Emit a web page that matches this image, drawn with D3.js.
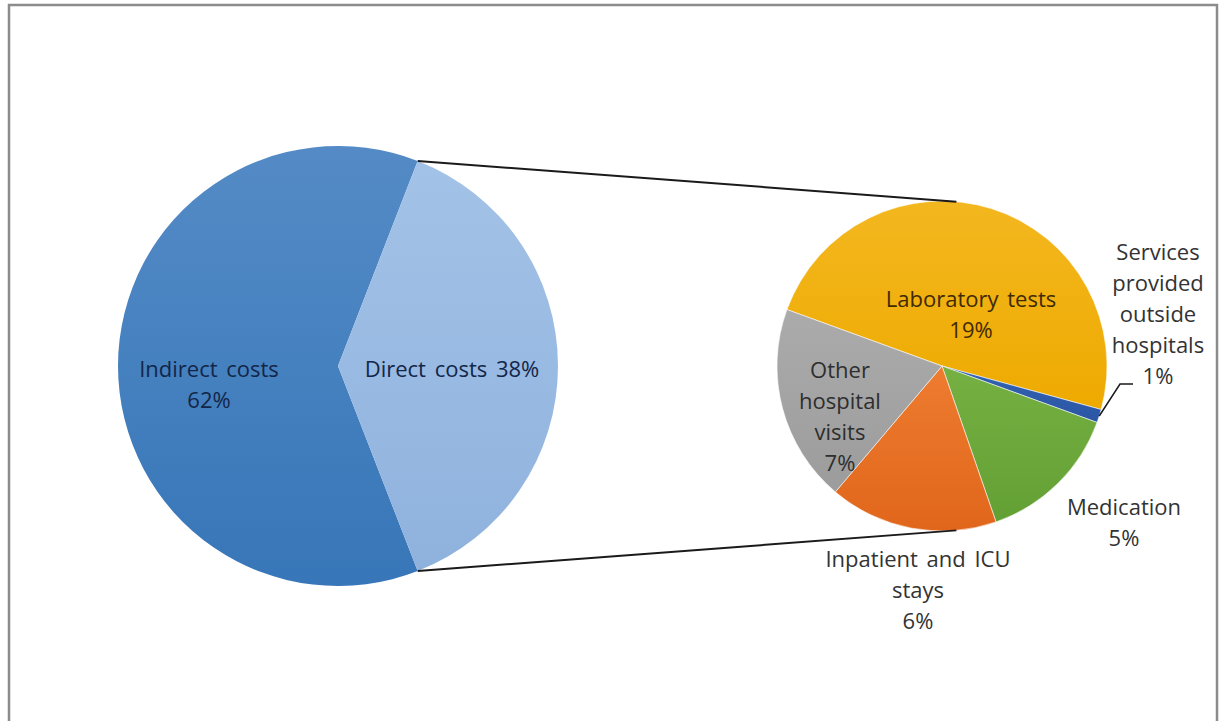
<!DOCTYPE html>
<html>
<head>
<meta charset="utf-8">
<script src="https://cdn.jsdelivr.net/npm/d3@7"></script>
<style>
  html, body { margin: 0; padding: 0; background: #fff; }
  svg { display: block; }
  text { font-family: "Open Sans", Lato, sans-serif; }
</style>
</head>
<body>
<svg id="chart" width="1220" height="721"></svg>
<script>
// ---------- data ----------
const mainCategories = ["Indirect costs", "Direct costs"];
const mainValues = [61.8, 38.2];
const subCategories = ["Laboratory tests", "Services provided outside hospitals", "Medication", "Inpatient and ICU stays", "Other hospital visits"];
const subValues = [18.6, 0.5, 5.4, 6.3, 7.4];

// ---------- layout / style ----------
const svg = d3.select("#chart");
const main = { cx: 338, cy: 366, r: 220 };
const sub = { cx: 942, cy: 366, r: 165 };
const fmt = d3.format(".0%");
const total = d3.sum(mainValues);

const mainColors = { "Indirect costs": ["#548bc6", "#3776b8"], "Direct costs": ["#a3c2e7", "#8fb2dd"] };
const subColors = {
  "Laboratory tests": ["#f3b71f", "#eeaa00"],
  "Services provided outside hospitals": ["#3363b3", "#2a56a4"],
  "Medication": ["#76b043", "#63a033"],
  "Inpatient and ICU stays": ["#ee7c30", "#e0661b"],
  "Other hospital visits": ["#ababab", "#9c9c9c"]
};

const defs = svg.append("defs");
function grad(id, c) {
  const g = defs.append("linearGradient").attr("id", id).attr("x1", 0).attr("y1", 0).attr("x2", 0).attr("y2", 1);
  g.append("stop").attr("offset", "0%").attr("stop-color", c[0]);
  g.append("stop").attr("offset", "100%").attr("stop-color", c[1]);
}
mainCategories.forEach((c, i) => grad("gm" + i, mainColors[c]));
subCategories.forEach((c, i) => grad("gs" + i, subColors[c]));

// frame
svg.append("rect").attr("x", 9).attr("y", 5).attr("width", 1208).attr("height", 730)
  .attr("fill", "#fff").attr("stroke", "#8c8c8c").attr("stroke-width", 2.5);

// ---------- main pie ----------
const deg = Math.PI / 180;
const directShare = mainValues[1] / total * 2 * Math.PI;
const mainPie = d3.pie().sort(null).value(d => d.v)
  .startAngle(Math.PI / 2 + directShare / 2)
  .endAngle(Math.PI / 2 + directShare / 2 + 2 * Math.PI);
const mainData = mainPie(mainCategories.map((c, i) => ({ c, v: mainValues[i], i })));
const mainArc = d3.arc().innerRadius(0).outerRadius(main.r);
const gMain = svg.append("g").attr("transform", `translate(${main.cx},${main.cy})`);
gMain.selectAll("path").data(mainData).join("path")
  .attr("d", mainArc)
  .attr("fill", d => `url(#gm${d.data.i})`);

// ---------- sub pie ----------
const subStart = -70 * deg;
const subPie = d3.pie().sort(null).value(d => d.v)
  .startAngle(subStart).endAngle(subStart + 2 * Math.PI);
const subData = subPie(subCategories.map((c, i) => ({ c, v: subValues[i], i })));
const subArc = d3.arc().innerRadius(0).outerRadius(sub.r);
const gSub = svg.append("g").attr("transform", `translate(${sub.cx},${sub.cy})`);
gSub.selectAll("path").data(subData).join("path")
  .attr("d", subArc)
  .attr("fill", d => `url(#gs${d.data.i})`)
  .attr("stroke", "rgba(255,255,255,0.55)").attr("stroke-width", 1);

// ---------- connector lines ----------
const directArc = mainData[1];
function polar(c, r, a) { return [c.cx + r * Math.sin(a), c.cy - r * Math.cos(a)]; }
const topA = polar(main, main.r, directArc.startAngle);
const botA = polar(main, main.r, directArc.endAngle);
const topB = polar(sub, sub.r, 5 * deg);
const botB = polar(sub, sub.r, 175 * deg);
svg.append("line").attr("x1", topA[0]).attr("y1", topA[1]).attr("x2", topB[0]).attr("y2", topB[1])
  .attr("stroke", "#1a1a1a").attr("stroke-width", 2);
svg.append("line").attr("x1", botA[0]).attr("y1", botA[1]).attr("x2", botB[0]).attr("y2", botB[1])
  .attr("stroke", "#1a1a1a").attr("stroke-width", 2);

// ---------- labels ----------
const fs = 22, lh = 31;
function label(x, y, lines, color) {
  const t = svg.append("text").attr("x", x).attr("y", y).attr("text-anchor", "middle")
    .attr("font-size", fs).attr("fill", color).attr("word-spacing", 3);
  lines.forEach((s, k) => t.append("tspan").attr("x", x).attr("dy", k === 0 ? 0 : lh).text(s));
}
const pct = v => fmt(v / total);

// main pie labels
label(main.cx - 129, main.cy + 11, [mainCategories[0], pct(mainValues[0])], "#132648");
label(main.cx + 114, main.cy + 11, [mainCategories[1] + " " + pct(mainValues[1])], "#132648");

// sub pie labels (offsets relative to the second pie's centre)
label(sub.cx + 29, sub.cy - 59, [subCategories[0], pct(subValues[0])], "#402a00");
label(sub.cx + 216, sub.cy - 106, ["Services", "provided", "outside", "hospitals", pct(subValues[1])], "#333333");
label(sub.cx + 182, sub.cy + 149, ["Medication", pct(subValues[2])], "#333333");
label(sub.cx - 24, sub.cy + 201, ["Inpatient and ICU", "stays", pct(subValues[3])], "#333333");
label(sub.cx - 102, sub.cy + 12, ["Other", "hospital", "visits", pct(subValues[4])], "#2e2e2e");

// leader line for the small slice
const svc = subData[1];
const svcEdge = polar(sub, sub.r, (svc.startAngle + svc.endAngle) / 2);
const lx = sub.cx + 178, ly = sub.cy + 18;
svg.append("path")
  .attr("d", d3.line()([svcEdge, [lx, ly], [lx + 13, ly]]))
  .attr("fill", "none").attr("stroke", "#1a1a1a").attr("stroke-width", 1.5);
</script>
</body>
</html>
